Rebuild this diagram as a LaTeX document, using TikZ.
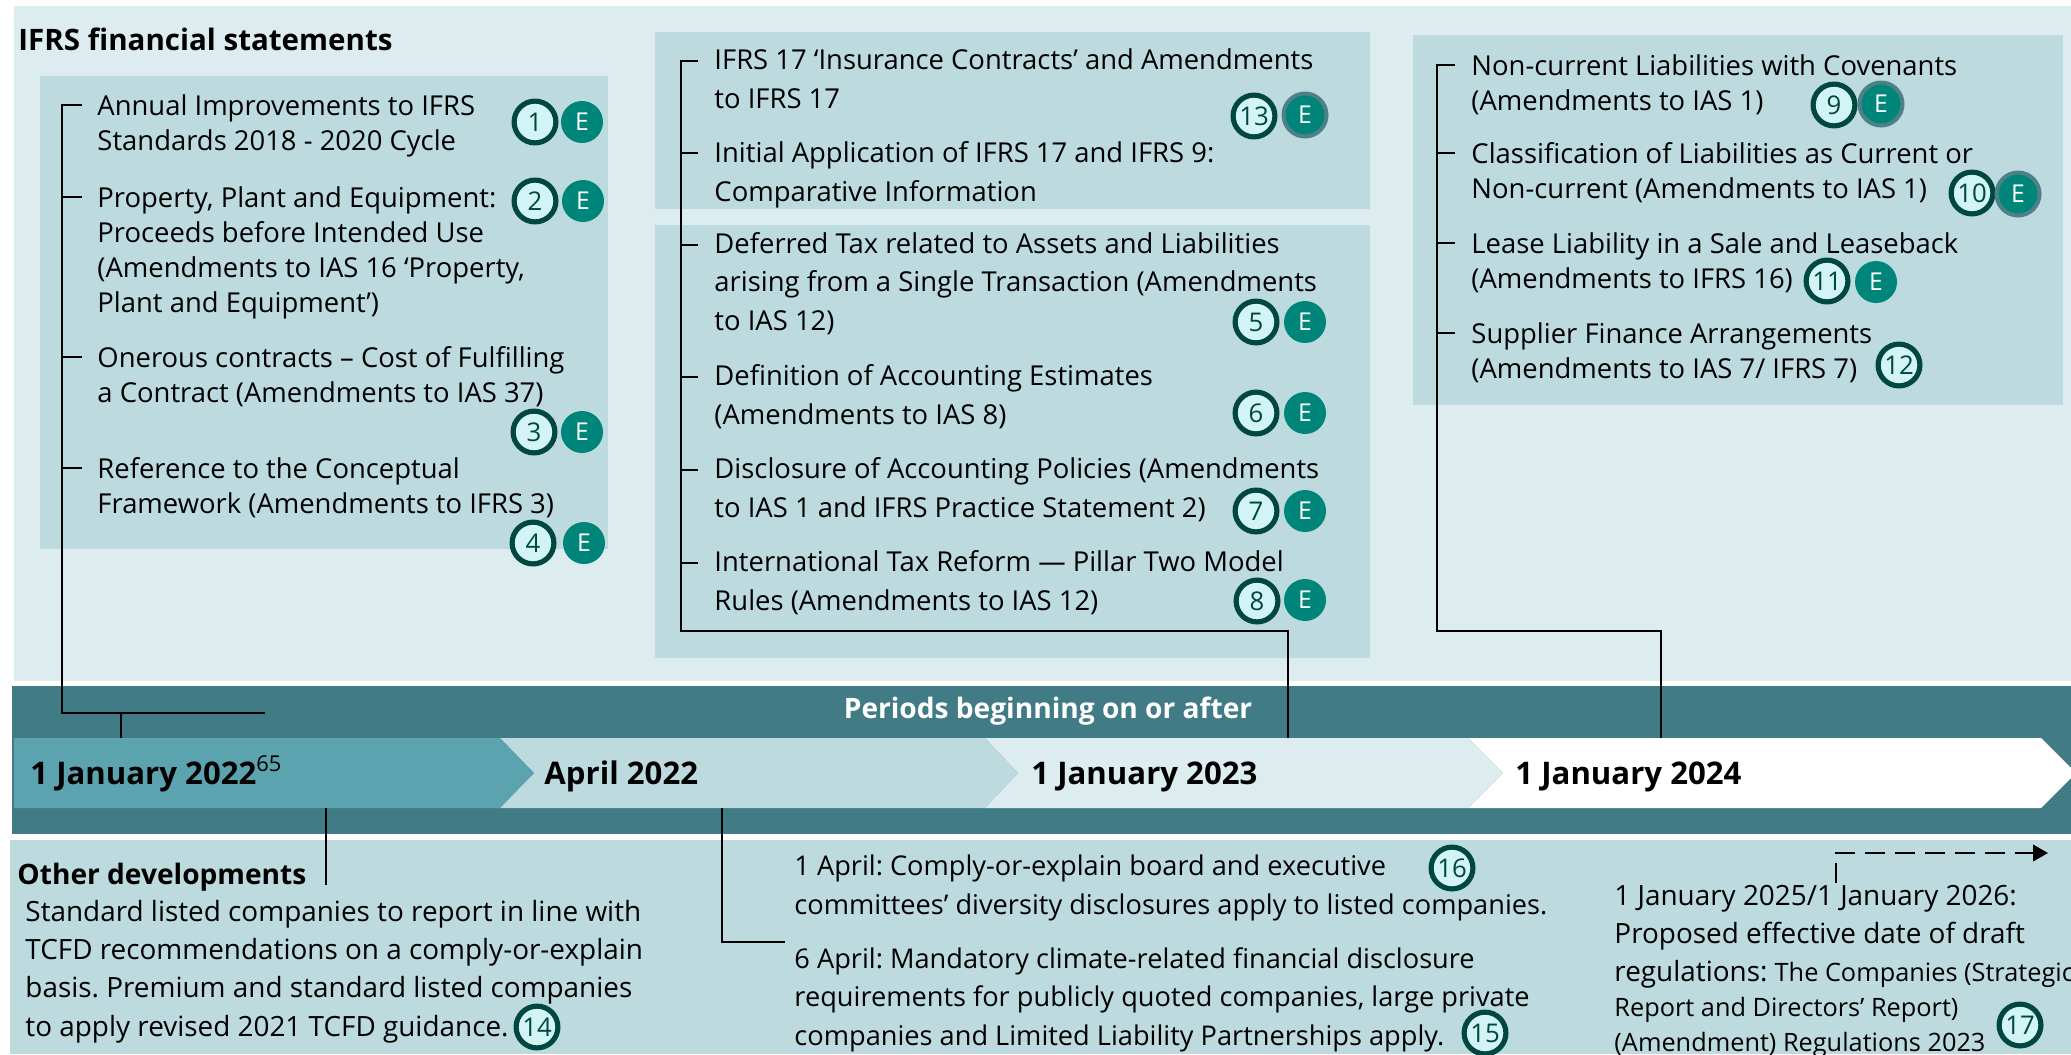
\documentclass[tikz,border=0pt]{standalone}
\usepackage{fontspec}
\setmainfont{Open Sans}
\usetikzlibrary{arrows.meta}
\definecolor{paleteal}{HTML}{DDECEF}
\definecolor{midteal}{HTML}{BDDBDF}
\definecolor{bandteal}{HTML}{417C86}
\definecolor{chevteal}{HTML}{5BA4AF}
\definecolor{markfill}{HTML}{D3F4F4}
\definecolor{markline}{HTML}{00473F}
\definecolor{efill}{HTML}{00857A}
\definecolor{ering}{HTML}{4E8088}
\frenchspacing
\begin{document}
\begin{tikzpicture}[x=0.15mm,y=-0.15mm,
    itm/.style={anchor=base west,align=left,inner sep=0pt,font=\fontsize{11.7}{14.9}\selectfont},
    itmm/.style={itm,font=\fontsize{11.7}{16.3}\selectfont},
    btxt/.style={itm,font=\fontsize{11.9}{16.3}\selectfont},
    btxtm/.style={itm,font=\fontsize{11.6}{16.3}\selectfont},
    num/.style={circle,draw=markline,line width=2.2pt,fill=markfill,inner sep=0pt,minimum size=0.627cm,text=markline,font=\fontsize{11}{12}\selectfont},
    eff/.style={circle,fill=efill,inner sep=0pt,minimum size=0.63cm,text=white,font=\fontsize{10.5}{12}\selectfont},
    effr/.style={eff,draw=ering,line width=1.7pt,minimum size=0.645cm},
    datum/.style={anchor=base west,inner sep=0pt,font=\fontsize{13.3}{15}\selectfont\bfseries},
    brk/.style={line width=1pt}]
            \useasboundingbox (0,0) rectangle (2071,1054);
            \clip (0,0) rectangle (2071,1054);

            \fill[paleteal] (14,6) rectangle (2071,681);
            \fill[midteal] (40,76) rectangle (608,549);
            \fill[midteal] (655,32) rectangle (1370,209);
            \fill[midteal] (655,225) rectangle (1370,658);
            \fill[midteal] (1413,35) rectangle (2063,405);
            \fill[bandteal] (12,686) rectangle (2071,834);
            \fill[midteal] (10,840) rectangle (2071,1054);

            \fill[white] (1468,738) -- (2041,738) -- (2076,773) -- (2041,808) -- (1468,808) -- (1503,773) -- cycle;
            \fill[paleteal] (985,738) -- (1468,738) -- (1503,773) -- (1468,808) -- (985,808) -- (1018,773) -- cycle;
            \fill[midteal] (500,738) -- (985,738) -- (1018,773) -- (985,808) -- (500,808) -- (534,773) -- cycle;
            \fill[chevteal] (14,738) -- (500,738) -- (534,773) -- (500,808) -- (14,808) -- cycle;

            \node[anchor=base west,inner sep=0pt,font=\fontsize{12.6}{16}\selectfont\bfseries] (title) at (18,50) {IFRS financial statements};

            % base anchor sits on the last line
            \node[itm] (l1) at (97,150) {Annual Improvements to IFRS\\Standards 2018 - 2020 Cycle};
            \node[itm] (l2) at (97,312) {Property, Plant and Equipment:\\Proceeds before Intended Use\\(Amendments to IAS 16 ‘Property,\\Plant and Equipment’)};
            \node[itm] (l3) at (97,402) {Onerous contracts – Cost of Fulfilling\\a Contract (Amendments to IAS 37)};
            \node[itm] (l4) at (97,513) {Reference to the Conceptual\\Framework (Amendments to IFRS 3)};

            \node[itmm] (c1) at (714,108) {IFRS 17 ‘Insurance Contracts’ and Amendments\\to IFRS 17};
            \node[itmm] (c2) at (714,201) {Initial Application of IFRS 17 and IFRS 9:\\Comparative Information};
            \node[itmm] (c3) at (714,330) {Deferred Tax related to Assets and Liabilities\\arising from a Single Transaction (Amendments\\to IAS 12)};
            \node[itmm] (c4) at (714,424) {Definition of Accounting Estimates\\(Amendments to IAS 8)};
            \node[itmm] (c5) at (714,517) {Disclosure of Accounting Policies (Amendments\\to IAS 1 and IFRS Practice Statement 2)};
            \node[itmm] (c6) at (714,610) {International Tax Reform — Pillar Two Model\\Rules (Amendments to IAS 12)};

            \node[itm] (r1) at (1471,110) {Non-current Liabilities with Covenants\\(Amendments to IAS 1)};
            \node[itm] (r2) at (1471,198) {Classification of Liabilities as Current or\\Non-current (Amendments to IAS 1)};
            \node[itm] (r3) at (1471,288) {Lease Liability in a Sale and Leaseback\\(Amendments to IFRS 16)};
            \node[itm] (r4) at (1471,378) {Supplier Finance Arrangements\\(Amendments to IAS 7/ IFRS 7)};

            \node[num] (m1) at (535,122) {1};
            \node[eff] (e1) at (582,122) {E};
            \node[num] (m2) at (535,201) {2};
            \node[eff] (e2) at (583,201) {E};
            \node[num] (m3) at (534,432) {3};
            \node[eff] (e3) at (582,432) {E};
            \node[num] (m4) at (533,543) {4};
            \node[eff] (e4) at (584,543) {E};
            \node[num] (m13) at (1254,116) {13};
            \node[effr] (e13) at (1305,115) {E};
            \node[num] (m5) at (1256,322) {5};
            \node[eff] (e5) at (1305,322) {E};
            \node[num] (m6) at (1256,413) {6};
            \node[eff] (e6) at (1305,413) {E};
            \node[num] (m7) at (1256,511) {7};
            \node[eff] (e7) at (1305,511) {E};
            \node[num] (m8) at (1257,601) {8};
            \node[eff] (e8) at (1305,600) {E};
            \node[num] (m9) at (1834,105) {9};
            \node[effr] (e9) at (1881,104) {E};
            \node[num] (m10) at (1972,193) {10};
            \node[effr] (e10) at (2018,194) {E};
            \node[num] (m11) at (1827,281) {11};
            \node[eff] (e11) at (1876,282) {E};
            \node[num] (m12) at (1899,365) {12};

            \coordinate (ltop) at (62,105);
            \coordinate (ljoin) at (62,713);
            \coordinate (lfoot) at (121,713);
            \draw[brk] (82,105) -- (ltop) -- (ljoin) -- (265,713);
            \draw[brk] (lfoot) -- (121,738);
            \draw[brk] (62,197) -- (82,197);
            \draw[brk] (62,357) -- (82,357);
            \draw[brk] (62,468) -- (82,468);

            \coordinate (ctop) at (681,61);
            \coordinate (cjoin) at (681,631);
            \coordinate (cfoot) at (1288,631);
            \draw[brk] (698,61) -- (ctop) -- (cjoin) -- (cfoot) -- (1288,738);
            \draw[brk] (681,153) -- (698,153);
            \draw[brk] (681,245) -- (698,245);
            \draw[brk] (681,377) -- (698,377);
            \draw[brk] (681,470) -- (698,470);
            \draw[brk] (681,563) -- (698,563);

            \coordinate (rtop) at (1437,65);
            \coordinate (rjoin) at (1437,631);
            \coordinate (rfoot) at (1661,631);
            \draw[brk] (1455,65) -- (rtop) -- (rjoin) -- (rfoot) -- (1661,738);
            \draw[brk] (1437,153) -- (1455,153);
            \draw[brk] (1437,243) -- (1455,243);
            \draw[brk] (1437,333) -- (1455,333);

            \node[font=\fontsize{12}{14}\selectfont\bfseries,text=white] (per) at (1048,711) {Periods beginning on or after};
            \node[datum] (d1) at (30,784) {1 January 2022\textsuperscript{\normalfont 65}};
            \node[datum] (d2) at (544,784) {April 2022};
            \node[datum] (d3) at (1031,784) {1 January 2023};
            \node[datum] (d4) at (1515,784) {1 January 2024};

            \node[anchor=base west,inner sep=0pt,font=\fontsize{12}{15}\selectfont\bfseries] (oth) at (17,884) {Other developments};
            \node[btxt] (b14) at (25,1036) {Standard listed companies to report in line with\\TCFD recommendations on a comply-or-explain\\basis. Premium and standard listed companies\\to apply revised 2021 TCFD guidance.};
            \node[btxtm] (b16) at (794,914) {1 April: Comply-or-explain board and executive\\committees’ diversity disclosures apply to listed companies.};
            \node[btxtm] (b15) at (794,1045) {6 April: Mandatory climate-related financial disclosure\\requirements for publicly quoted companies, large private\\companies and Limited Liability Partnerships apply.};
            \node[btxt] (b17) at (1614,1051) {1 January 2025/1 January 2026:\\Proposed effective date of draft\\regulations: {\fontsize{10.8}{16.3}\selectfont The Companies (Strategic}\\[-1.3pt]{\fontsize{10.8}{16.3}\selectfont Report and Directors’ Report)}\\[-1.7pt]{\fontsize{10.8}{16.3}\selectfont (Amendment) Regulations 2023}};

            \node[num] (m14) at (537,1027) {14};
            \node[num] (m15) at (1485,1033) {15};
            \node[num] (m16) at (1452,868) {16};
            \node[num] (m17) at (2020,1025) {17};

            \draw[brk] (326,808) -- (326,885);
            \coordinate (aprfoot) at (722,942);
            \draw[brk] (722,808) -- (aprfoot) -- (785,942);
            \coordinate (fut) at (1835,853);
            \coordinate (futend) at (2048,853);
            \draw[line width=1.1pt,dash pattern=on 8.5pt off 4.3pt,-{Triangle[length=6.4pt,width=7pt]}] (fut) -- (futend);
            \draw[brk] (1836,863) -- (1836,883);
        \end{tikzpicture}
\end{document}
